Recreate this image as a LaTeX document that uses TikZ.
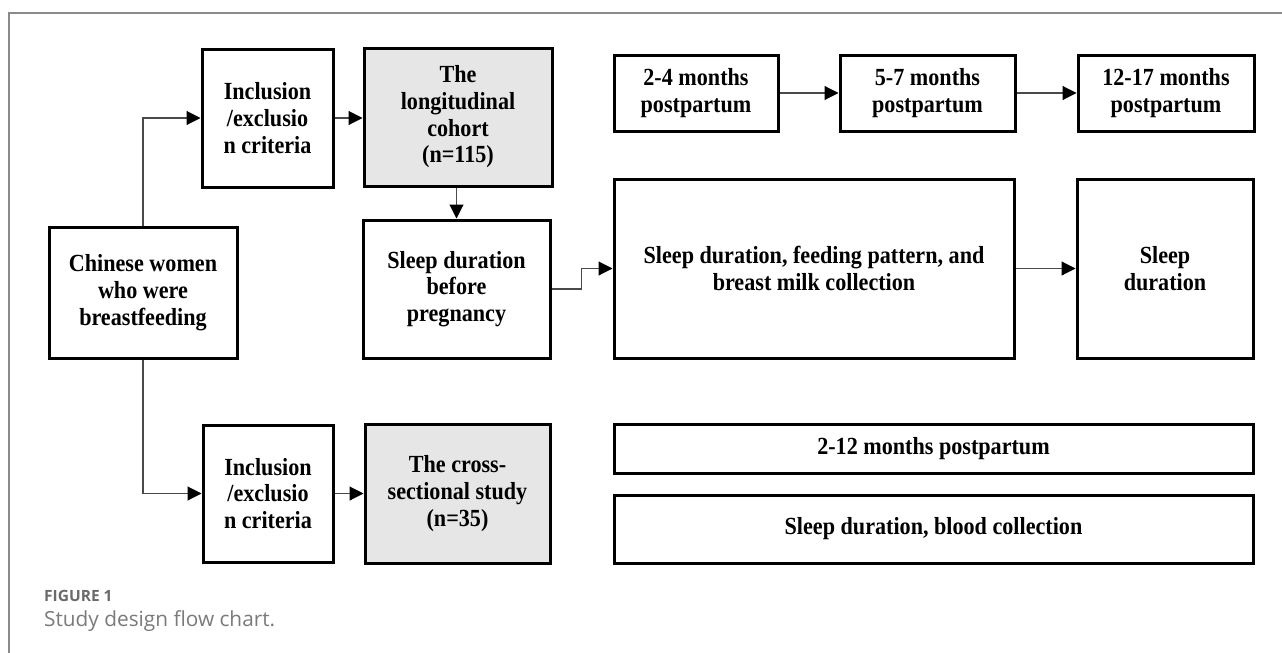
\documentclass[tikz,border=0pt]{standalone}
\usepackage{fontspec}
\setmainfont{Liberation Serif}
\newfontfamily\boxfont[FakeStretch=0.9]{Liberation Serif}
\newfontfamily\capfont{Open Sans}
\usetikzlibrary{arrows.meta}
\definecolor{framegray}{HTML}{8A8A8A}
\definecolor{boxgray}{HTML}{E6E6E6}
\definecolor{conngray}{HTML}{4A4A4A}
\definecolor{capgray}{HTML}{6A6A6A}
\definecolor{capgraylight}{HTML}{7A7A7A}
\tikzset{
  box/.style={draw=black, line width=3pt, fill=white, inner sep=0pt, align=center,
    font=\boxfont\fontsize{24.6}{26.7}\selectfont\bfseries},
  graybox/.style={box, fill=boxgray},
  conn/.style={draw=conngray, line width=1.1pt, -{Triangle[length=14pt,width=14pt,color=black]}},
  frameline/.style={draw=framegray, line width=1.5pt}
}
\begin{document}
\begin{tikzpicture}[x=1pt,y=-1pt]
\useasboundingbox (0,0) rectangle (1282,653);
\draw[frameline] (1282,13) -- (9,13) -- (9,653);

\node[box, minimum width=131pt, minimum height=138pt] (incA) at (267.5,118) {Inclusion\\/exclusio\\n criteria};
\node[graybox, minimum width=188pt, minimum height=138pt] (cohort) at (458,117) {The\\longitudinal\\cohort\\(n=115)};
\node[box, minimum width=188pt, minimum height=131pt] (women) at (143,292.5) {Chinese women\\who were\\breastfeeding};
\node[box, minimum width=187pt, minimum height=138pt] (before) at (456.5,289) {Sleep duration\\before\\pregnancy};
\node[box, minimum width=164pt, minimum height=76pt] (m24) at (696,93) {2-4 months\\postpartum};
\node[box, minimum width=175pt, minimum height=76pt] (m57) at (927.5,93) {5-7 months\\postpartum};
\node[box, minimum width=176pt, minimum height=76pt] (m1217) at (1166,93) {12-17 months\\postpartum};
\node[box, minimum width=400pt, minimum height=179pt] (feed) at (814,268.5) {Sleep duration, feeding pattern, and\\breast milk collection};
\node[box, minimum width=176pt, minimum height=179pt] (sleepdur) at (1165,268.5) {Sleep\\duration};
\node[box, minimum width=130pt, minimum height=137pt] (incB) at (268,493.5) {Inclusion\\/exclusio\\n criteria};
\node[graybox, minimum width=185pt, minimum height=139pt] (cross) at (457.5,493.5) {The cross-\\sectional study\\(n=35)};
\node[box, minimum width=639pt, minimum height=49pt] (m212) at (933.5,448.5) {2-12 months postpartum};
\node[box, minimum width=639pt, minimum height=68pt] (blood) at (933.5,529) {Sleep duration, blood collection};

\draw[conn] (women.north) |- (incA.west);
\draw[conn] (incA.east) -- (incA.east -| cohort.west);
\draw[conn] (before.north |- cohort.south) -- (before.north);
\draw[conn] (before.east) -- ++(30,0) |- (feed.west);
\draw[conn] (m24.east) -- (m57.west);
\draw[conn] (m57.east) -- (m1217.west);
\draw[conn] (feed.east) -- (sleepdur.west);
\draw[conn] (women.south) |- (incB.west);
\draw[conn] (incB.east) -- (incB.east -| cross.west);

\node[anchor=base west, inner sep=0pt, text=capgray, font=\capfont\fontsize{15.5}{18}\selectfont\bfseries] (figlabel) at (44,601.7) {FIGURE 1};
\node[anchor=base west, inner sep=0pt, text=capgraylight, font=\capfont\fontsize{20.8}{24}\selectfont] (figcap) at (44,626.7) {Study design flow chart.};
\end{tikzpicture}
\end{document}
